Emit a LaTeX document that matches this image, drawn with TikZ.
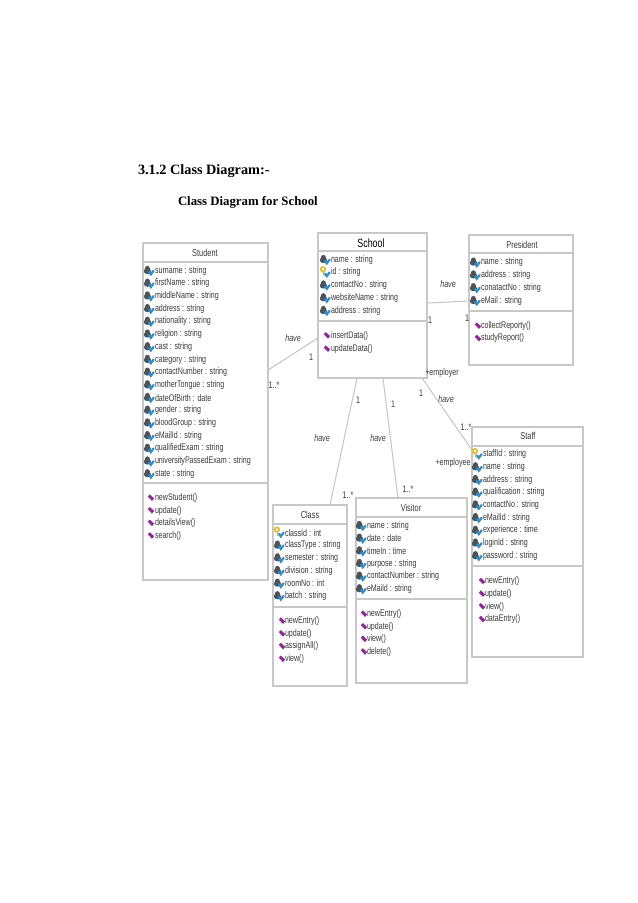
\documentclass[tikz,border=0pt]{standalone}
\usepackage{fontspec}
\setmainfont{Liberation Serif}
\newfontfamily\umlfont[FakeStretch=0.74]{Liberation Sans}
\usetikzlibrary{calc}
\newcounter{memberno}
\definecolor{umlline}{HTML}{C8C8C8}
\definecolor{umltext}{HTML}{3A3A3A}
\definecolor{iconblue}{HTML}{2E8FCB}
\definecolor{icongray}{HTML}{4E5358}
\definecolor{iconkey}{HTML}{D9C23A}
\definecolor{iconpurple}{HTML}{8E2A96}
\tikzset{
  x=0.75pt,y=-0.75pt,
  umlbox/.style={draw=umlline,line width=0.9pt,fill=white,inner sep=0pt,outer sep=0pt},
  sepline/.style={draw=umlline,line width=0.9pt},
  assoc/.style={draw=umlline,line width=0.8pt},
  member/.style={anchor=west,inner sep=0pt,outer sep=0pt,text=umltext,font=\umlfont\fontsize{7.2pt}{8pt}\selectfont},
  boxtitle/.style={inner sep=0pt,outer sep=0pt,text=umltext,font=\umlfont\fontsize{7.5pt}{8pt}\selectfont},
  assoclabel/.style={inner sep=0pt,outer sep=0pt,text=umltext,font=\umlfont\fontsize{7.2pt}{8pt}\selectfont},
  rolelabel/.style={assoclabel,font=\umlfont\itshape\fontsize{7.2pt}{8pt}\selectfont},
  heading/.style={anchor=west,inner sep=0pt,outer sep=0pt,font=\bfseries\fontsize{10.4pt}{12pt}\selectfont},
  pics/g/.style={code={
    \fill[icongray] (-1.6,-2.3) circle (2.5);
    \fill[icongray] (-1.6,0.4) ellipse (3.6 and 3);
    \draw[iconblue,line width=1.7pt,line cap=round] (0.2,1.2) -- (1.8,3.6) -- (4.6,0);
  }},
  pics/k/.style={code={
    \draw[iconkey,line width=1.3pt] (-2,-3.2) circle (2.2);
    \draw[iconkey,line width=1.3pt] (-1.6,-1) -- (-1,3.2);
    \draw[iconblue,line width=1.7pt,line cap=round] (0.2,1.2) -- (1.8,3.6) -- (4.6,0);
  }},
  pics/m/.style={code={
    \fill[iconpurple] (-3.2,-1.5) -- (-1.2,-3.6) -- (3.2,0.4) -- (1,3) -- cycle;
  }}
}
% name, left, top, right, bottom, title rule, compartment rule
\newcommand\umlclass[7]{%
  \node[umlbox,minimum width={(#4-#2)*0.75pt},minimum height={(#5-#3)*0.75pt}] (#1) at ({(#2+#4)/2},{(#3+#5)/2}) {};
  \draw[sepline] (#2,#6) -- (#4,#6);
  \draw[sepline] (#2,#7) -- (#4,#7);
}
% icon x, text x, first y, row step, entries
\newcommand\members[5]{%
  \foreach \ic/\lbl [count=\rowno from 0] in {#5}{%
    \pgfmathsetmacro\rowy{#3+\rowno*#4}%
    \stepcounter{memberno}%
    \pic at (#1,\rowy) {\ic};
    \node[member] (member\arabic{memberno}) at (#2,\rowy) {\lbl};
  }%
}
\begin{document}
\begin{tikzpicture}
\useasboundingbox (0,0) rectangle (638,903);
\fill[white] (0,0) rectangle (638,903);

\node[heading,font=\bfseries\fontsize{10.7pt}{12pt}\selectfont] (head1) at (138,171) {3.1.2 Class Diagram:-};
\node[heading,font=\bfseries\fontsize{9.6pt}{12pt}\selectfont] (head2) at (178,202) {Class Diagram for School};

\umlclass{student}{143}{243}{268}{580}{262}{483}
\umlclass{school}{318}{233}{427}{378}{251}{321}
\umlclass{president}{469}{235}{573}{365}{253}{311}
\umlclass{staff}{472}{427}{583}{657}{446}{566}
\umlclass{class}{273}{505}{347}{686}{524}{607}
\umlclass{visitor}{356}{498}{467}{683}{517}{599}

\draw[assoc] ($(student.north east)!.377!(student.south east)$) -- ($(school.north west)!.724!(school.south west)$);
\draw[assoc] ($(school.north east)!.483!(school.south east)$) -- ($(president.north west)!.508!(president.south west)$);
\draw[assoc] ($(school.south west)!.358!(school.south east)$) -- ($(class.north west)!.77!(class.north east)$);
\draw[assoc] ($(school.south west)!.596!(school.south east)$) -- ($(visitor.north west)!.378!(visitor.north east)$);
\draw[assoc] ($(school.south west)!.954!(school.south east)$) -- ($(staff.north west)!.1!(staff.south west)$);

\node[boxtitle] (tstudent) at (205,253) {Student};
\node[boxtitle,font=\umlfont\fontsize{9pt}{10pt}\selectfont,text=black] (tschool) at (371,243) {School};
\node[boxtitle] (tpresident) at (522,245) {President};
\node[boxtitle] (tstaff) at (528,436) {Staff};
\node[boxtitle] (tclass) at (310,515) {Class};
\node[boxtitle] (tvisitor) at (411,508) {Visitor};

\members{149}{155}{270.7}{12.7}{g/surname : string,g/firstName : string,g/middleName : string,g/address : string,g/nationality : string,g/religion : string,g/cast : string,g/category : string,g/contactNumber : string,g/motherTongue : string,g/dateOfBirth : date,g/gender : string,g/bloodGroup : string,g/eMailId : string,g/qualifiedExam : string,g/universityPassedExam : string,g/state : string}
\members{151}{155}{498}{12.6}{m/newStudent(),m/update(),m/detailsView(),m/search()}

\members{325}{331}{259.7}{12.75}{g/name : string,k/id : string,g/contactNo : string,g/websiteName : string,g/address : string}
\members{327}{331}{335.7}{13.3}{m/insertData(),m/updateData()}

\members{475}{481}{262.3}{12.8}{g/name : string,g/address : string,g/conatactNo : string,g/eMail : string}
\members{478}{481}{326}{12.4}{m/collectReporty(),m/studyReport()}

\members{477}{483}{454.3}{12.7}{k/staffId : string,g/name : string,g/address : string,g/qualification : string,g/contactNo : string,g/eMailId : string,g/experience : time,g/loginId : string,g/password : string}
\members{482}{485}{581.3}{12.7}{m/newEntry(),m/update(),m/view(),m/dataEntry()}

\members{279}{285}{532.7}{12.65}{k/classId : int,g/classType : string,g/semester : string,g/division : string,g/roomNo : int,g/batch : string}
\members{282}{285}{621}{12.7}{m/newEntry(),m/update(),m/assignAll(),m/view()}

\members{361}{367}{525.7}{12.65}{g/name : string,g/date : date,g/timeIn : time,g/purpose : string,g/contactNumber : string,g/eMaild : string}
\members{364}{367}{614}{12.6}{m/newEntry(),m/update(),m/view(),m/delete()}

\node[rolelabel] (l1) at (293,338) {have};
\node[assoclabel] (l2) at (311,357) {1};
\node[assoclabel] (l3) at (274,385) {1..*};
\node[rolelabel] (l4) at (448,284) {have};
\node[assoclabel] (l5) at (430,320) {1};
\node[assoclabel] (l6) at (467,318) {1};
\node[assoclabel] (l7) at (442,373) {+employer};
\node[assoclabel] (l8) at (421,393) {1};
\node[rolelabel] (l9) at (446,399) {have};
\node[assoclabel] (l10) at (358,400) {1};
\node[assoclabel] (l11) at (393,404) {1};
\node[assoclabel] (l12) at (466,427) {1..*};
\node[assoclabel] (l13) at (453,463) {+employee};
\node[rolelabel] (l14) at (322,438) {have};
\node[rolelabel] (l15) at (378,438) {have};
\node[assoclabel] (l16) at (348,495) {1..*};
\node[assoclabel] (l17) at (408,489) {1..*};
\end{tikzpicture}
\end{document}
